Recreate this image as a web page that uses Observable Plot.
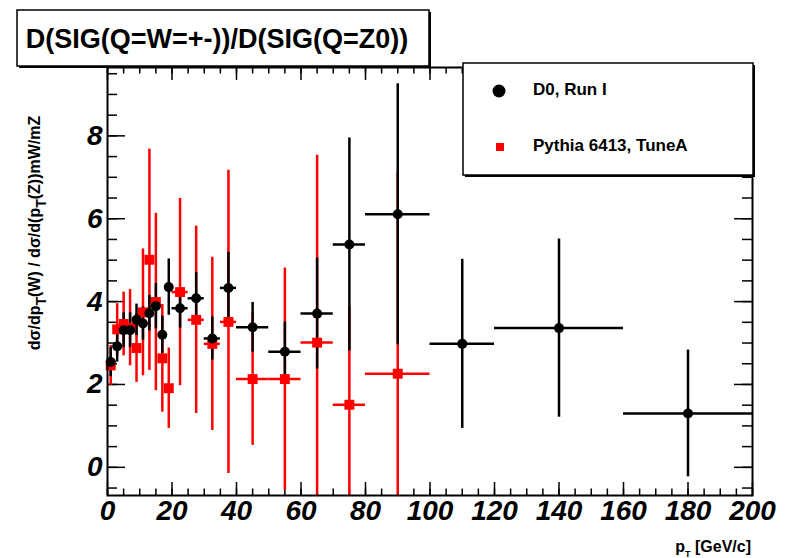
<!DOCTYPE html>
<html>
<head>
<meta charset="utf-8">
<script src="https://cdn.jsdelivr.net/npm/d3@7"></script>
<script src="https://cdn.jsdelivr.net/npm/@observablehq/plot@0.6"></script>
<style>
html, body { margin: 0; padding: 0; background: #fff; }
#chart { position: relative; width: 787px; height: 558px; }
</style>
</head>
<body>
<div id="chart"></div>
<script>
// ---- data ----
const binLo = [0, 2, 4, 6, 8, 10, 12, 14, 16, 18, 20, 25, 30, 35, 40, 50, 60, 70, 80, 100, 120, 160];
const binHi = [2, 4, 6, 8, 10, 12, 14, 16, 18, 20, 25, 30, 35, 40, 50, 60, 70, 80, 100, 120, 160, 200];

// D0, Run I (black circles)
const d0Y   = [2.54, 2.92, 3.31, 3.31, 3.56, 3.47, 3.72, 3.89, 3.20, 4.35, 3.84, 4.08, 3.11, 4.33, 3.38, 2.79, 3.71, 5.38, 6.11, 2.98, 3.36, 1.30];
const d0Err = [0.35, 0.38, 0.42, 0.42, 0.38, 0.40, 0.43, 0.55, 0.45, 0.68, 0.48, 0.62, 0.52, 0.86, 0.60, 0.72, 1.34, 2.57, 3.15, 2.04, 2.15, 1.53];

// Pythia 6413, TuneA (red squares) - first 19 bins
const pyY   = [2.46, 3.33, 3.46, 3.37, 2.88, 3.74, 5.01, 3.99, 2.63, 1.91, 4.23, 3.56, 2.98, 3.51, 2.13, 2.13, 3.01, 1.51, 2.26];
const pyErr = [0.48, 0.62, 0.77, 0.92, 0.83, 1.53, 2.67, 2.14, 1.30, 0.97, 2.26, 2.26, 2.09, 3.66, 1.60, 2.68, 4.52, 2.35, 4.87];

// ticks
const xMajor = [0, 20, 40, 60, 80, 100, 120, 140, 160, 180, 200];
const xMinor = d3.range(0, 201, 5);
const yMajor = [0, 2, 4, 6, 8];
const yMinor = d3.range(-0.5, 9.51, 0.5);

const titleText = "D(SIG(Q=W=+-))/D(SIG(Q=Z0))";
const legendLabels = ["D0, Run I", "Pythia 6413, TuneA"];

// ---- layout ----
const W = 787, H = 558;
const mL = 107, mR = 35, mT = 67, mB = 63;
const fw = W - mL - mR, fh = H - mT - mB;
const xDomain = [0, 200];
const yDomain = [-0.68, 9.65];
const FONT = "'Liberation Sans', Arial, Helvetica, sans-serif";

const clampY = v => Math.max(yDomain[0], Math.min(yDomain[1], v));
const d0 = binLo.map((lo, i) => ({lo, hi: binHi[i], x: (lo + binHi[i]) / 2, y: d0Y[i], e: d0Err[i]}));
const py = pyY.map((y, i) => ({lo: binLo[i], hi: binHi[i], x: (binLo[i] + binHi[i]) / 2, y, e: pyErr[i]}));

const tickFont = {fontSize: 28, fontWeight: "bold", fontStyle: "italic", fontFamily: FONT};
const tk = {stroke: "black", strokeWidth: 1.5};

const plot = Plot.plot({
  width: W, height: H,
  marginLeft: mL, marginRight: mR, marginTop: mT, marginBottom: mB,
  style: {background: "white", color: "black", fontFamily: FONT},
  x: {domain: xDomain},
  y: {domain: yDomain},
  marks: [
    // inward ticks on all four sides
    Plot.tickX(xMinor, {x: d => d, insetTop: fh - 6.5, ...tk}),
    Plot.tickX(xMajor, {x: d => d, insetTop: fh - 13, ...tk}),
    Plot.tickX(xMinor, {x: d => d, insetBottom: fh - 6.5, ...tk}),
    Plot.tickX(xMajor, {x: d => d, insetBottom: fh - 13, ...tk}),
    Plot.tickY(yMinor, {y: d => d, insetRight: fw - 10, ...tk}),
    Plot.tickY(yMajor, {y: d => d, insetRight: fw - 18, ...tk}),
    Plot.tickY(yMinor, {y: d => d, insetLeft: fw - 10, ...tk}),
    Plot.tickY(yMajor, {y: d => d, insetLeft: fw - 18, ...tk}),
    Plot.axisX({ticks: xMajor, tickSize: 0, tickPadding: 5, label: null, tickFormat: d => String(d), ...tickFont}),
    Plot.axisY({ticks: yMajor, tickSize: 0, tickPadding: 5, label: null, tickFormat: d => String(d), ...tickFont}),
    // error bars
    Plot.ruleX(py, {x: "x", y1: d => clampY(d.y - d.e), y2: d => clampY(d.y + d.e), stroke: "red", strokeWidth: 2.5}),
    Plot.ruleY(py, {y: "y", x1: "lo", x2: "hi", stroke: "red", strokeWidth: 2.5}),
    Plot.ruleX(d0, {x: "x", y1: d => clampY(d.y - d.e), y2: d => clampY(d.y + d.e), stroke: "black", strokeWidth: 2.5}),
    Plot.ruleY(d0, {y: "y", x1: "lo", x2: "hi", stroke: "black", strokeWidth: 2.5}),
    // markers
    Plot.dot(py, {x: "x", y: "y", symbol: "square", r: 5.6, fill: "red", stroke: "none"}),
    Plot.dot(d0, {x: "x", y: "y", r: 5, fill: "black", stroke: "none"}),
    Plot.frame({stroke: "black", strokeWidth: 2})
  ]
});

document.getElementById("chart").appendChild(plot);
const svg = d3.select(plot);

// ---- title box ----
const tg = svg.append("g");
tg.append("rect").attr("x", 19).attr("y", 12).attr("width", 412).attr("height", 56).attr("fill", "black");
tg.append("rect").attr("x", 17).attr("y", 10).attr("width", 412).attr("height", 56)
  .attr("fill", "white").attr("stroke", "black").attr("stroke-width", 1.5);
tg.append("text").attr("x", 217).attr("y", 48).attr("text-anchor", "middle")
  .attr("font-family", FONT).attr("font-weight", "bold").attr("font-size", 27).attr("fill", "black")
  .text(titleText);

// ---- legend box ----
const lg = svg.append("g");
lg.append("rect").attr("x", 465).attr("y", 65).attr("width", 290).attr("height", 112).attr("fill", "black");
lg.append("rect").attr("x", 463).attr("y", 63).attr("width", 290).attr("height", 112)
  .attr("fill", "white").attr("stroke", "black").attr("stroke-width", 1.5);
lg.append("circle").attr("cx", 499).attr("cy", 91).attr("r", 6.5).attr("fill", "black");
lg.append("rect").attr("x", 496).attr("y", 143).attr("width", 8).attr("height", 8).attr("fill", "red");
lg.append("text").attr("x", 533).attr("y", 95).attr("text-anchor", "start").attr("font-family", FONT)
  .attr("font-weight", "bold").attr("font-size", 17).attr("fill", "black").text(legendLabels[0]);
lg.append("text").attr("x", 533).attr("y", 151).attr("text-anchor", "start").attr("font-family", FONT)
  .attr("font-weight", "bold").attr("font-size", 17).attr("fill", "black").text(legendLabels[1]);

// ---- y axis label ----
const yl = svg.append("text").attr("transform", "translate(40,233) rotate(-90)")
  .attr("text-anchor", "middle").attr("font-family", FONT).attr("font-weight", "bold")
  .attr("font-size", 16).attr("fill", "black");
yl.append("tspan").text("dσ/dp");
yl.append("tspan").attr("dy", 6).attr("font-size", 14).text("T");
yl.append("tspan").attr("dy", -6).text("(W) / dσ/d(p");
yl.append("tspan").attr("dy", 6).attr("font-size", 14).text("T");
yl.append("tspan").attr("dy", -6).text("(Z))mW/mZ");

// ---- x axis label ----
const xl = svg.append("text").attr("x", 751).attr("y", 552).attr("text-anchor", "end")
  .attr("font-family", FONT).attr("font-weight", "bold").attr("font-size", 16).attr("fill", "black");
xl.append("tspan").text("p");
xl.append("tspan").attr("dy", 5).attr("font-size", 9).text("T");
xl.append("tspan").attr("dy", -5).text(" [GeV/c]");
</script>
</body>
</html>
